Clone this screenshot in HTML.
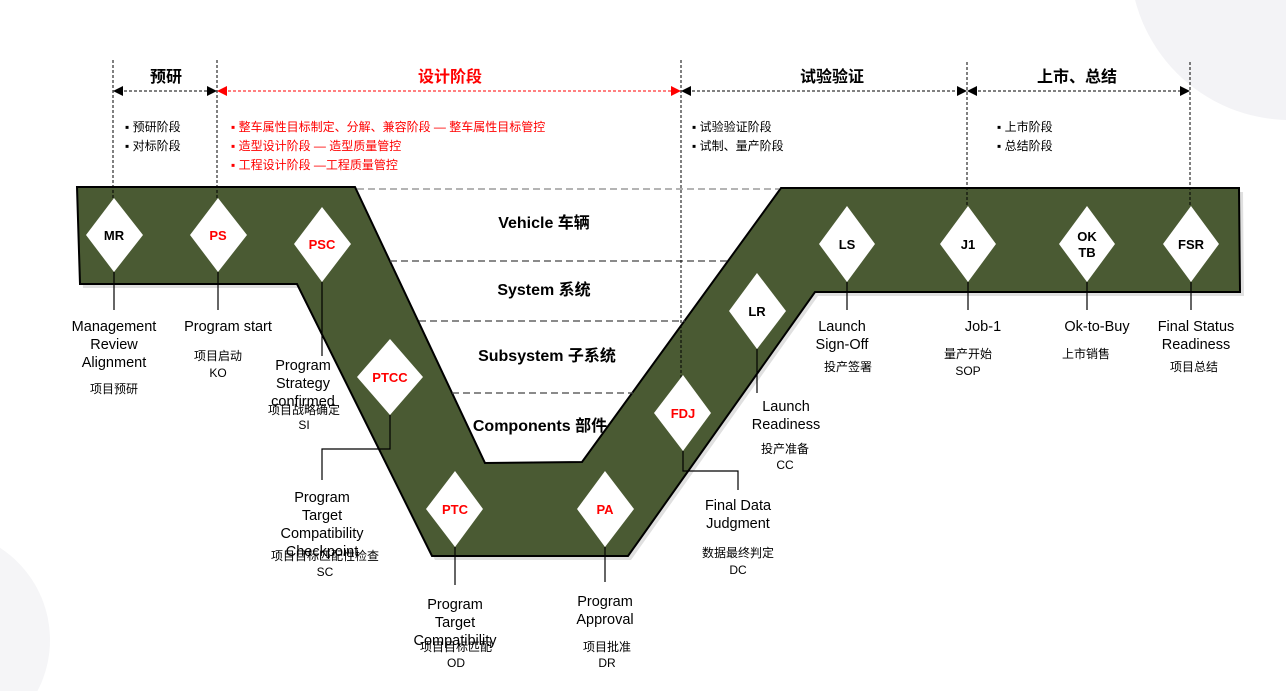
<!DOCTYPE html>
<html><head><meta charset="utf-8"><style>
html,body{margin:0;padding:0;background:#fff;width:1286px;height:691px;overflow:hidden;}
svg{display:block;}
text{font-family:"Liberation Sans","Noto Sans CJK SC",sans-serif;}
.l{font-size:14.5px;fill:#000;text-anchor:middle;}
.c{font-size:12px;fill:#000;text-anchor:middle;}
.d{font-size:13px;font-weight:bold;text-anchor:middle;}
.b{font-size:12px;}
.t{font-size:16px;font-weight:bold;text-anchor:middle;}
.lv{font-size:16px;font-weight:bold;text-anchor:middle;fill:#000;}
</style></head><body>
<svg width="1286" height="691" viewBox="0 0 1286 691" xmlns="http://www.w3.org/2000/svg">
<defs>
<marker id="ab" markerWidth="10" markerHeight="10" refX="9" refY="5" orient="auto-start-reverse" markerUnits="userSpaceOnUse"><path d="M0,0 L10,5 L0,10z" fill="#000"/></marker>
<marker id="ar" markerWidth="10" markerHeight="10" refX="9" refY="5" orient="auto-start-reverse" markerUnits="userSpaceOnUse"><path d="M0,0 L10,5 L0,10z" fill="#f00"/></marker>
</defs>
<circle cx="1290" cy="-40" r="160" fill="#f3f3f6"/>
<circle cx="-60" cy="640" r="110" fill="#f5f5f7"/>
<polygon points="80,191 358,191 488,467 585,466 784,192 1243,192 1244,296 818,296 631,560 435,560 300,288 83,288" fill="#ccc" opacity="0.6"/>
<polygon points="77,187 355,187 485,463 582,462 781,188 1239,188 1240,292 815,292 628,556 432,556 297,284 80,284" fill="#4a5a33" stroke="#000" stroke-width="2"/>
<g stroke="#444" stroke-width="1.2" stroke-dasharray="7,4">
<line x1="357" y1="189" x2="779" y2="189" stroke="#888"/>
<line x1="390" y1="261" x2="728" y2="261"/>
<line x1="419" y1="321" x2="685" y2="321"/>
<line x1="452" y1="393" x2="633" y2="393"/>
</g>
<text class="lv" x="544" y="228">Vehicle 车辆</text>
<text class="lv" x="544" y="295">System 系统</text>
<text class="lv" x="547" y="361">Subsystem 子系统</text>
<text class="lv" x="540" y="431">Components 部件</text>
<g stroke="#000" stroke-width="1" stroke-dasharray="3,2">
<line x1="113" y1="60" x2="113" y2="200"/>
<line x1="217" y1="60" x2="217" y2="200"/>
<line x1="681" y1="60" x2="681" y2="378"/>
<line x1="967" y1="62" x2="967" y2="207"/>
<line x1="1190" y1="62" x2="1190" y2="207"/>
<line x1="114" y1="91" x2="216" y2="91" marker-start="url(#ab)" marker-end="url(#ab)"/>
<line x1="682" y1="91" x2="966" y2="91" marker-start="url(#ab)" marker-end="url(#ab)"/>
<line x1="968" y1="91" x2="1189" y2="91" marker-start="url(#ab)" marker-end="url(#ab)"/>
<line x1="218" y1="91" x2="680" y2="91" stroke="#f00" marker-start="url(#ar)" marker-end="url(#ar)"/>
</g>
<text class="t" x="166" y="82">预研</text>
<text class="t" x="450" y="82" fill="#f00">设计阶段</text>
<text class="t" x="832" y="82">试验验证</text>
<text class="t" x="1077" y="82">上市、总结</text>
<g class="b">
<text x="125" y="131">▪ 预研阶段</text>
<text x="125" y="150">▪ 对标阶段</text>
<g fill="#f00">
<text x="231" y="131">▪ 整车属性目标制定、分解、兼容阶段 — 整车属性目标管控</text>
<text x="231" y="150">▪ 造型设计阶段 — 造型质量管控</text>
<text x="231" y="169">▪ 工程设计阶段 —工程质量管控</text>
</g>
<text x="692" y="131">▪ 试验验证阶段</text>
<text x="692" y="150">▪ 试制、量产阶段</text>
<text x="997" y="131">▪ 上市阶段</text>
<text x="997" y="150">▪ 总结阶段</text>
</g>
<g stroke="#000" stroke-width="1.2" fill="none">
<line x1="114" y1="272" x2="114" y2="310"/>
<line x1="218" y1="272" x2="218" y2="310"/>
<line x1="322" y1="282" x2="322" y2="356"/>
<polyline points="390,415 390,449 322,449 322,480"/>
<line x1="455" y1="547" x2="455" y2="585"/>
<line x1="605" y1="547" x2="605" y2="582"/>
<polyline points="683,451 683,471 738,471 738,490"/>
<line x1="757" y1="349" x2="757" y2="393"/>
<line x1="847" y1="282" x2="847" y2="310"/>
<line x1="968" y1="282" x2="968" y2="310"/>
<line x1="1087" y1="282" x2="1087" y2="310"/>
<line x1="1191" y1="282" x2="1191" y2="310"/>
</g>
<g fill="#fff">
<polygon points="114,198 143,235 114,272 86,235"/>
<polygon points="218,198 247,235 218,272 190,235"/>
<polygon points="322,207 351,244 322,282 294,244"/>
<polygon points="390,339 423,377 390,415 357,377"/>
<polygon points="455,471 483,509 455,547 426,509"/>
<polygon points="605,471 634,509 605,547 577,509"/>
<polygon points="683,375 711,413 683,451 654,413"/>
<polygon points="757,273 786,311 757,349 729,311"/>
<polygon points="847,206 875,244 847,282 819,244"/>
<polygon points="968,206 996,244 968,282 940,244"/>
<polygon points="1087,206 1115,244 1087,282 1059,244"/>
<polygon points="1191,206 1219,244 1191,282 1163,244"/>
</g>
<text class="d" x="114" y="240">MR</text>
<text class="d" x="218" y="240" fill="#f00">PS</text>
<text class="d" x="322" y="249" fill="#f00">PSC</text>
<text class="d" x="390" y="382" fill="#f00">PTCC</text>
<text class="d" x="455" y="514" fill="#f00">PTC</text>
<text class="d" x="605" y="514" fill="#f00">PA</text>
<text class="d" x="683" y="418" fill="#f00">FDJ</text>
<text class="d" x="757" y="316">LR</text>
<text class="d" x="847" y="249">LS</text>
<text class="d" x="968" y="249">J1</text>
<text class="d" x="1087" y="241">OK</text>
<text class="d" x="1087" y="257">TB</text>
<text class="d" x="1191" y="249">FSR</text>
<text class="l" x="114" y="331">Management</text>
<text class="l" x="114" y="349">Review</text>
<text class="l" x="114" y="367">Alignment</text>
<text class="c" x="114" y="393">项目预研</text>
<text class="l" x="228" y="331">Program start</text>
<text class="c" x="218" y="360">项目启动</text>
<text class="c" x="218" y="377">KO</text>
<text class="l" x="303" y="370">Program</text>
<text class="l" x="303" y="388">Strategy</text>
<text class="l" x="303" y="406">confirmed</text>
<text class="c" x="304" y="414">项目战略确定</text>
<text class="c" x="304" y="429">SI</text>
<text class="l" x="322" y="502">Program</text>
<text class="l" x="322" y="520">Target</text>
<text class="l" x="322" y="538">Compatibility</text>
<text class="l" x="322" y="556">Checkpoint</text>
<text class="c" x="325" y="560">项目目标匹配性检查</text>
<text class="c" x="325" y="576">SC</text>
<text class="l" x="455" y="609">Program</text>
<text class="l" x="455" y="627">Target</text>
<text class="l" x="455" y="645">Compatibility</text>
<text class="c" x="456" y="651">项目目标匹配</text>
<text class="c" x="456" y="667">OD</text>
<text class="l" x="605" y="606">Program</text>
<text class="l" x="605" y="624">Approval</text>
<text class="c" x="607" y="651">项目批准</text>
<text class="c" x="607" y="667">DR</text>
<text class="l" x="738" y="510">Final Data</text>
<text class="l" x="738" y="528">Judgment</text>
<text class="c" x="738" y="557">数据最终判定</text>
<text class="c" x="738" y="574">DC</text>
<text class="l" x="786" y="411">Launch</text>
<text class="l" x="786" y="429">Readiness</text>
<text class="c" x="785" y="453">投产准备</text>
<text class="c" x="785" y="469">CC</text>
<text class="l" x="842" y="331">Launch</text>
<text class="l" x="842" y="349">Sign-Off</text>
<text class="c" x="848" y="371">投产签署</text>
<text class="l" x="983" y="331">Job-1</text>
<text class="c" x="968" y="358">量产开始</text>
<text class="c" x="968" y="375">SOP</text>
<text class="l" x="1097" y="331">Ok-to-Buy</text>
<text class="c" x="1086" y="358">上市销售</text>
<text class="l" x="1196" y="331">Final Status</text>
<text class="l" x="1196" y="349">Readiness</text>
<text class="c" x="1194" y="371">项目总结</text>
</svg>
</body></html>
